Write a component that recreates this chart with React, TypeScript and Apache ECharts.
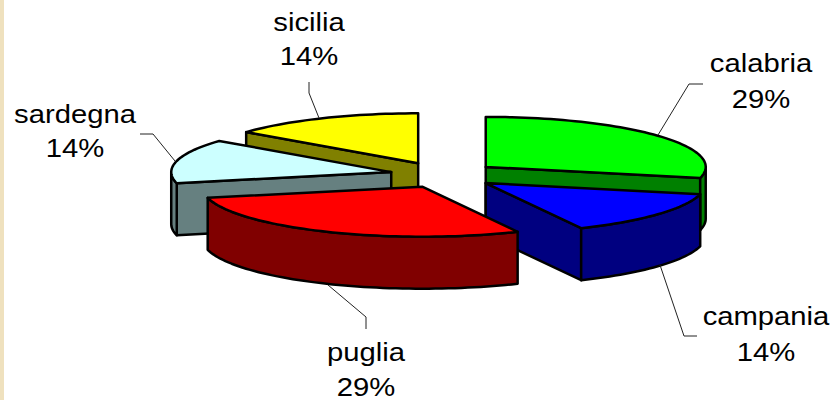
import React, { useEffect, useRef } from "react";
import * as echarts from "echarts";

const categories = ["calabria", "campania", "puglia", "sardegna", "sicilia"];
const values = [2, 1, 2, 1, 1];
const percentLabels = ["29%", "14%", "29%", "14%", "14%"];
const topColors = ["#00FF00", "#0000FF", "#FF0000", "#CCFFFF", "#FFFF00"];
const sideColors = ["#008000", "#000080", "#800000", "#668080", "#808000"];
const paintOrder = [4, 0, 3, 1, 2];

const labelCenters = [
  [761, 63, 99],
  [766, 316, 352],
  [366, 352, 387],
  [75, 114, 148],
  [309, 22, 56],
];
const leaders = [
  [[703, 84], [689, 84], [658, 135]],
  [[660, 265], [684, 336], [697, 336]],
  [[328, 285], [366, 317], [366, 329]],
  [[140, 134], [153, 134], [175, 161]],
  [[309, 82], [309, 93], [319, 118]],
];
const sliceNudgeX = [-2, -2, 4, 4, 0];

const PIE = { cx: 443, cy: 175, rx: 220, ry: 50, depth: 52, explode: 0.26 };
const total = values.reduce((a, b) => a + b, 0);

function onRim(ax: number, ay: number, t: number): [number, number] {
  return [ax + PIE.rx * Math.sin(t), ay - PIE.ry * Math.cos(t)];
}

function arcPoints(ax: number, ay: number, a0: number, a1: number): [number, number][] {
  const steps = Math.max(2, Math.ceil(Math.abs(a1 - a0) / 0.03));
  const pts: [number, number][] = [];
  for (let i = 0; i <= steps; i++) pts.push(onRim(ax, ay, a0 + ((a1 - a0) * i) / steps));
  return pts;
}

function renderSlice(params: any, api: any) {
  const index = paintOrder[params.dataIndex];
  const before = values.slice(0, index).reduce((a, b) => a + b, 0);
  const a0 = (before / total) * Math.PI * 2;
  const a1 = ((before + values[index]) / total) * Math.PI * 2;
  const mid = (a0 + a1) / 2;
  const ax = PIE.cx + PIE.explode * PIE.rx * Math.sin(mid) + sliceNudgeX[index];
  const ay = PIE.cy - PIE.explode * PIE.ry * Math.cos(mid);
  const side = { fill: sideColors[index], stroke: "#000", lineWidth: 2.5, lineJoin: "round" };
  const top = { fill: topColors[index], stroke: "#000", lineWidth: 2.5, lineJoin: "round" };
  const children: any[] = [];
  const down = (p: [number, number]): [number, number] => [p[0], p[1] + PIE.depth];
  const cut = (t: number) => {
    const r = onRim(ax, ay, t);
    children.push({
      type: "polygon",
      shape: { points: [[ax, ay], r, down(r), [ax, ay + PIE.depth]] },
      style: side,
    });
  };
  // A cut face shows only if its outward normal points to the viewer.
  if (Math.cos(a0 - Math.PI / 2) < -1e-6) cut(a0);
  if (Math.cos(a1 + Math.PI / 2) < -1e-6) cut(a1);
  const v0 = Math.max(a0, Math.PI / 2);
  const v1 = Math.min(a1, (Math.PI * 3) / 2);
  if (v1 > v0) {
    const arc = arcPoints(ax, ay, v0, v1);
    children.push({
      type: "polygon",
      shape: { points: [...arc, ...arc.slice().reverse().map(down)] },
      style: side,
    });
  }
  children.push({
    type: "polygon",
    shape: { points: [[ax, ay], ...arcPoints(ax, ay, a0, a1)] },
    style: top,
  });
  children.push({
    type: "polyline",
    shape: { points: leaders[index] },
    style: { fill: "none", stroke: "#222", lineWidth: 1 },
  });
  const [lx, y1, y2] = labelCenters[index];
  [[categories[index], y1], [percentLabels[index], y2]].forEach(([text, y]) => {
    children.push({
      type: "text",
      x: lx,
      y: y as number,
      scaleX: 1.17,
      style: {
        text: text as string,
        x: 0,
        y: 0,
        align: "center",
        verticalAlign: "middle",
        fontFamily: "'Liberation Sans', Arial, sans-serif",
        fontSize: 25,
        fill: "#000",
      },
    });
  });
  return { type: "group", children };
}

export default function App() {
  const ref = useRef<HTMLDivElement>(null);
  useEffect(() => {
    document.body.style.margin = "0";
    const chart = echarts.init(ref.current!, undefined, { renderer: "svg" });
    chart.setOption({
      animation: false,
      backgroundColor: "#FFFFFF",
      graphic: [
        {
          type: "rect",
          shape: { x: 0, y: 0, width: 4, height: 400 },
          style: { fill: "#EFE1BE" },
          silent: true,
        },
      ],
      series: [
        {
          type: "custom",
          coordinateSystem: "none",
          renderItem: renderSlice,
          silent: true,
          data: paintOrder.map((i) => ({ name: categories[i], value: values[i] })),
        },
      ],
    });
    return () => chart.dispose();
  }, []);
  return <div ref={ref} style={{ width: 832, height: 400 }} />;
}
